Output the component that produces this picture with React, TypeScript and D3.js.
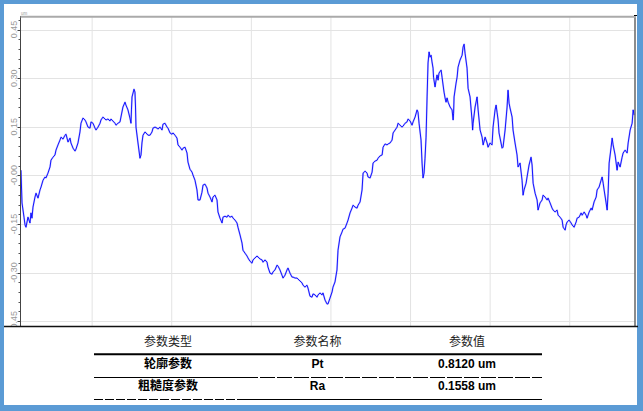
import { useEffect, useRef } from "react";
import * as d3 from "d3";

// profile trace: [position (mm), height (um)]
const profile: [number, number][] = [
    [0.106, 0.016], [0.119, -0.085], [0.144, -0.129], [0.157, -0.153], [0.169, -0.160], [0.194, -0.129],
    [0.219, -0.147], [0.232, -0.116], [0.244, -0.132], [0.257, -0.098], [0.282, -0.067], [0.295, -0.055],
    [0.320, -0.070], [0.345, -0.045], [0.358, -0.036], [0.383, -0.015], [0.408, -0.005], [0.420, -0.008],
    [0.445, 0.007], [0.471, 0.026], [0.483, 0.047], [0.508, 0.056], [0.533, 0.063], [0.546, 0.078],
    [0.571, 0.094], [0.596, 0.109], [0.609, 0.118], [0.634, 0.112], [0.659, 0.124], [0.672, 0.127],
    [0.697, 0.103], [0.722, 0.115], [0.734, 0.100], [0.760, 0.084], [0.785, 0.075], [0.797, 0.081],
    [0.822, 0.100], [0.847, 0.134], [0.860, 0.161], [0.885, 0.177], [0.910, 0.171], [0.923, 0.165],
    [0.948, 0.149], [0.973, 0.146], [0.986, 0.165], [1.011, 0.161], [1.036, 0.146], [1.049, 0.140],
    [1.074, 0.149], [1.099, 0.161], [1.111, 0.171], [1.136, 0.180], [1.162, 0.174], [1.174, 0.171],
    [1.199, 0.174], [1.224, 0.168], [1.237, 0.174], [1.287, 0.161], [1.300, 0.155], [1.325, 0.161],
    [1.350, 0.165], [1.362, 0.180], [1.387, 0.211], [1.413, 0.226], [1.425, 0.217], [1.450, 0.202],
    [1.475, 0.177], [1.488, 0.161], [1.494, 0.202], [1.501, 0.242], [1.526, 0.266], [1.538, 0.257],
    [1.545, 0.211], [1.551, 0.149], [1.576, 0.100], [1.601, 0.053], [1.614, 0.063], [1.626, 0.100],
    [1.639, 0.124], [1.664, 0.134], [1.677, 0.131], [1.702, 0.124],
    [1.727, 0.124], [1.752, 0.134], [1.765, 0.146], [1.790, 0.149], [1.815, 0.146], [1.827, 0.143],
    [1.853, 0.149], [1.878, 0.140], [1.890, 0.158], [1.915, 0.161], [1.941, 0.149], [1.953, 0.146],
    [1.978, 0.131], [2.003, 0.127], [2.016, 0.131], [2.041, 0.124], [2.066, 0.115], [2.079, 0.094],
    [2.104, 0.087], [2.129, 0.078], [2.142, 0.084], [2.167, 0.087], [2.192, 0.069], [2.204, 0.041],
    [2.229, 0.019], [2.255, 0.010], [2.267, 0.001], [2.292, -0.015], [2.317, -0.045], [2.330, -0.076],
    [2.355, -0.076], [2.380, -0.052], [2.393, -0.030], [2.418, -0.027], [2.443, -0.039], [2.456, -0.055],
    [2.481, -0.067], [2.506, -0.082], [2.518, -0.067], [2.543, -0.061], [2.569, -0.076], [2.581, -0.113],
    [2.606, -0.132], [2.632, -0.147], [2.644, -0.129], [2.669, -0.126], [2.694, -0.129], [2.707, -0.123],
    [2.732, -0.129], [2.757, -0.126], [2.770, -0.132], [2.795, -0.138], [2.820, -0.147], [2.832, -0.160],
    [2.858, -0.184], [2.883, -0.209], [2.895, -0.231],
    [2.920, -0.240], [2.946, -0.249], [2.958, -0.255], [2.983, -0.265], [3.008, -0.271], [3.021, -0.261],
    [3.046, -0.255], [3.071, -0.249], [3.084, -0.252], [3.109, -0.258], [3.134, -0.261], [3.147, -0.268],
    [3.172, -0.261], [3.197, -0.268], [3.209, -0.283], [3.235, -0.302], [3.260, -0.305], [3.272, -0.298],
    [3.297, -0.292], [3.323, -0.277], [3.335, -0.280], [3.360, -0.292], [3.385, -0.308], [3.398, -0.317],
    [3.423, -0.308], [3.448, -0.292], [3.461, -0.286], [3.486, -0.302], [3.511, -0.314], [3.524, -0.314],
    [3.549, -0.317], [3.574, -0.317], [3.586, -0.320], [3.611, -0.326], [3.637, -0.332], [3.649, -0.339],
    [3.674, -0.345], [3.699, -0.339], [3.712, -0.348], [3.737, -0.373], [3.762, -0.376], [3.775, -0.366],
    [3.800, -0.369], [3.825, -0.376], [3.838, -0.369], [3.863, -0.363], [3.888, -0.369], [3.900, -0.363],
    [3.926, -0.385], [3.951, -0.397], [3.963, -0.397], [3.988, -0.379], [4.014, -0.360], [4.026, -0.345],
    [4.051, -0.329], [4.076, -0.292], [4.089, -0.231], [4.114, -0.190], [4.139, -0.175], [4.152, -0.166],
    [4.177, -0.163], [4.202, -0.147], [4.215, -0.138], [4.240, -0.116], [4.265, -0.101], [4.278, -0.092],
    [4.303, -0.098], [4.328, -0.101], [4.341, -0.092], [4.366, -0.082], [4.391, -0.045], [4.404, 0.007],
    [4.429, 0.013], [4.454, 0.007], [4.466, -0.005], [4.492, -0.008], [4.517, 0.010], [4.529, 0.038],
    [4.554, 0.044], [4.580, 0.047], [4.592, 0.053], [4.617, 0.060], [4.643, 0.063], [4.655, 0.087],
    [4.680, 0.097], [4.705, 0.094], [4.718, 0.097], [4.743, 0.100], [4.768, 0.109], [4.781, 0.131],
    [4.806, 0.140], [4.831, 0.149], [4.843, 0.161], [4.868, 0.155], [4.893, 0.149], [4.906, 0.152],
    [4.931, 0.161], [4.956, 0.165], [4.969, 0.174], [4.994, 0.168], [5.019, 0.155], [5.032, 0.165],
    [5.057, 0.180], [5.082, 0.202], [5.094, 0.195], [5.107, 0.161], [5.132, 0.109], [5.145, 0.038],
    [5.157, -0.008], [5.170, 0.007], [5.182, 0.053], [5.195, 0.118], [5.208, 0.242], [5.220, 0.347],
    [5.233, 0.381], [5.245, 0.365], [5.258, 0.371], [5.270, 0.350], [5.283, 0.331], [5.289, 0.303],
    [5.308, 0.273], [5.321, 0.294], [5.333, 0.310], [5.346, 0.294], [5.358, 0.316], [5.384, 0.325],
    [5.396, 0.303], [5.409, 0.279], [5.421, 0.257], [5.434, 0.239], [5.446, 0.226], [5.459, 0.239],
    [5.472, 0.226], [5.497, 0.211], [5.522, 0.202], [5.535, 0.171], [5.541, 0.192], [5.547, 0.242],
    [5.572, 0.285], [5.585, 0.303], [5.597, 0.334], [5.622, 0.356], [5.648, 0.371], [5.660, 0.396],
    [5.673, 0.405],
    [5.685, 0.377], [5.710, 0.331], [5.723, 0.269], [5.748, 0.242], [5.773, 0.171], [5.780, 0.140],
    [5.786, 0.161], [5.811, 0.211], [5.836, 0.242], [5.849, 0.202], [5.874, 0.140], [5.899, 0.118],
    [5.912, 0.094], [5.937, 0.118], [5.962, 0.100], [5.974, 0.087], [5.999, 0.100], [6.024, 0.094],
    [6.037, 0.149], [6.062, 0.202], [6.075, 0.217], [6.087, 0.195], [6.100, 0.171], [6.112, 0.131],
    [6.137, 0.100], [6.150, 0.084], [6.162, 0.087], [6.188, 0.140], [6.213, 0.211], [6.225, 0.263],
    [6.238, 0.223], [6.250, 0.208], [6.276, 0.180], [6.288, 0.140], [6.313, 0.100], [6.338, 0.063],
    [6.351, 0.026], [6.376, 0.038], [6.401, -0.015], [6.414, -0.061], [6.426, -0.045], [6.452, -0.024],
    [6.464, -0.005], [6.489, 0.032], [6.514, 0.056], [6.527, 0.032], [6.540, -0.024], [6.565, -0.055],
    [6.590, -0.076], [6.602, -0.107], [6.627, -0.085], [6.653, -0.076], [6.665, -0.061], [6.690, -0.067],
    [6.716, -0.076], [6.728, -0.070], [6.753, -0.085], [6.778, -0.101], [6.791, -0.107], [6.816, -0.113],
    [6.841, -0.107], [6.854, -0.123], [6.879, -0.129], [6.904, -0.138], [6.917, -0.160], [6.942, -0.169],
    [6.954, -0.153], [6.967, -0.144], [6.992, -0.138], [7.017, -0.147], [7.030, -0.153], [7.055, -0.160],
    [7.080, -0.144], [7.093, -0.132], [7.118, -0.129], [7.143, -0.116], [7.156, -0.123], [7.181, -0.113],
    [7.206, -0.123], [7.218, -0.132], [7.244, -0.113], [7.269, -0.101], [7.281, -0.107], [7.306, -0.082],
    [7.332, -0.067], [7.344, -0.045], [7.369, -0.036], [7.394, -0.015], [7.407, -0.005], [7.420, -0.024],
    [7.432, -0.045], [7.457, -0.085], [7.470, -0.107], [7.482, -0.055], [7.495, 0.038], [7.520, 0.087],
    [7.533, 0.115], [7.545, 0.094], [7.570, 0.063], [7.595, 0.016], [7.608, 0.041], [7.633, 0.026],
    [7.658, 0.056], [7.671, 0.069], [7.696, 0.078], [7.721, 0.069], [7.734, 0.100], [7.759, 0.140],
    [7.784, 0.161], [7.797, 0.202], [7.809, 0.186],
];

const yTicks = [-0.45, -0.3, -0.15, 0, 0.15, 0.3, 0.45];
const yTickLabels = ["-0.45", "-0.30", "-0.15", "-0.00", "0.15", "0.30", "0.45"];
const xGrid = [1, 2, 3, 4, 5, 6, 7];

const tableHeaders = ["参数类型", "参数名称", "参数值"];
const paramTypes = ["轮廓参数", "粗糙度参数"];
const paramNames = ["Pt", "Ra"];
const paramValues = ["0.8120 um", "0.1558 um"];

const W = 643;
const H = 411;

const App = () => {
    const svgRef = useRef<SVGSVGElement>(null);

    useEffect(() => {
        if (!svgRef.current) return;
        const svg = d3.select(svgRef.current);
        svg.selectAll("*").remove();

        const plot = { left: 20.5, right: 635, top: 16, bottom: 326 };
        const x = d3.scaleLinear().domain([0.1, 7.82]).range([plot.left, plot.right]);
        const y = d3.scaleLinear().domain([-0.465, 0.492]).range([plot.bottom, plot.top]);

        // blue frame
        svg.append("rect").attr("width", W).attr("height", H).attr("fill", "#5b9bd5");
        svg.append("rect").attr("x", 4).attr("y", 4).attr("width", 633).attr("height", 401).attr("fill", "#fff");

        // grid
        const g = svg.append("g");
        g.selectAll(".vgrid")
            .data(xGrid)
            .enter()
            .append("line")
            .attr("x1", (d) => x(d))
            .attr("x2", (d) => x(d))
            .attr("y1", plot.top)
            .attr("y2", plot.bottom)
            .attr("stroke", "#e3e3e3")
            .attr("stroke-width", 1);
        g.selectAll(".hgrid")
            .data(yTicks)
            .enter()
            .append("line")
            .attr("x1", plot.left)
            .attr("x2", plot.right)
            .attr("y1", (d) => Math.round(y(d)) + 0.5)
            .attr("y2", (d) => Math.round(y(d)) + 0.5)
            .attr("stroke", "#e3e3e3")
            .attr("stroke-width", 1);

        // y labels (rotated)
        yTicks.forEach((t, i) => {
            g.append("text")
                .attr("transform", `translate(17,${y(t)}) rotate(-90)`)
                .attr("text-anchor", "middle")
                .attr("fill", "#999")
                .attr("font-family", "'Liberation Sans', Arial, sans-serif")
                .attr("font-size", "9px")
                .text(yTickLabels[i]);
        });

        // minor + major ticks
        const minor = d3.range(-15, 17).map((i) => i * 0.03);
        g.selectAll(".minor")
            .data(minor)
            .enter()
            .append("line")
            .attr("x1", plot.left - 2)
            .attr("x2", plot.left)
            .attr("y1", (d) => Math.round(y(d)) + 0.5)
            .attr("y2", (d) => Math.round(y(d)) + 0.5)
            .attr("stroke", "#555");
        g.selectAll(".major")
            .data(yTicks)
            .enter()
            .append("line")
            .attr("x1", plot.left - 3)
            .attr("x2", plot.left)
            .attr("y1", (d) => Math.round(y(d)) + 0.5)
            .attr("y2", (d) => Math.round(y(d)) + 0.5)
            .attr("stroke", "#444");

        // profile line
        svg.append("clipPath")
            .attr("id", "plotClip")
            .append("rect")
            .attr("x", plot.left)
            .attr("y", plot.top)
            .attr("width", plot.right - plot.left)
            .attr("height", plot.bottom - plot.top);
        const line = d3
            .line<[number, number]>()
            .x((d) => x(d[0]))
            .y((d) => y(d[1]));
        const lg = svg.append("g").attr("clip-path", "url(#plotClip)");
        lg.append("path")
            .datum(profile)
            .attr("d", line)
            .attr("fill", "none")
            .attr("stroke", "#7b7bff")
            .attr("stroke-width", 1.8)
            .attr("stroke-opacity", 0.45)
            .attr("stroke-linejoin", "round");
        lg.append("path")
            .datum(profile)
            .attr("d", line)
            .attr("fill", "none")
            .attr("stroke", "#0000ff")
            .attr("stroke-width", 0.9)
            .attr("stroke-linejoin", "round");

        // axis frame
        svg.append("line")
            .attr("x1", plot.left)
            .attr("x2", plot.left)
            .attr("y1", plot.top)
            .attr("y2", plot.bottom)
            .attr("stroke", "#444")
            .attr("stroke-width", 1);
        svg.append("line")
            .attr("x1", plot.right)
            .attr("x2", plot.right)
            .attr("y1", plot.top)
            .attr("y2", plot.bottom)
            .attr("stroke", "#666")
            .attr("stroke-width", 1.5);
        svg.append("line")
            .attr("x1", plot.left)
            .attr("x2", plot.right + 1)
            .attr("y1", plot.top + 0.8)
            .attr("y2", plot.top + 0.8)
            .attr("stroke", "#aaa")
            .attr("stroke-width", 2);
        svg.append("line")
            .attr("x1", plot.right - 1)
            .attr("x2", plot.right + 2)
            .attr("y1", plot.top - 0.5)
            .attr("y2", plot.top - 0.5)
            .attr("stroke", "#000");
        svg.append("text")
            .attr("x", 21)
            .attr("y", 14.5)
            .attr("fill", "#999")
            .attr("font-family", "'Liberation Sans', Arial, sans-serif")
            .attr("font-size", "4.5px")
            .text("um");

        // table area
        svg.append("rect")
            .attr("x", 4)
            .attr("y", plot.bottom)
            .attr("width", 633)
            .attr("height", 405 - plot.bottom)
            .attr("fill", "#fff");
        svg.append("line")
            .attr("x1", 4)
            .attr("x2", 638)
            .attr("y1", plot.bottom + 0.5)
            .attr("y2", plot.bottom + 0.5)
            .attr("stroke", "#111")
            .attr("stroke-width", 1.5);

        const col = d3.scalePoint<number>().domain([0, 1, 2]).range([168, 467]);
        const row = d3.scalePoint<number>().domain([0, 1, 2]).range([341.5, 385.6]);
        const font = "'Liberation Sans', Arial, 'Noto Sans CJK SC', sans-serif";
        const tl = { left: 94, right: 542 };

        tableHeaders.forEach((h, i) => {
            svg.append("text")
                .attr("x", col(i)!)
                .attr("y", row(0)!)
                .attr("text-anchor", "middle")
                .attr("dominant-baseline", "central")
                .attr("font-family", font)
                .attr("font-size", "12px")
                .attr("fill", "#222")
                .text(h);
        });
        const rows = paramTypes.map((t, i) => [t, paramNames[i], paramValues[i]]);
        rows.forEach((r, ri) => {
            r.forEach((cell, ci) => {
                svg.append("text")
                    .attr("x", col(ci)!)
                    .attr("y", row(ri + 1)!)
                    .attr("text-anchor", "middle")
                    .attr("dominant-baseline", "central")
                    .attr("font-family", font)
                    .attr("font-size", "12px")
                    .attr("font-weight", "bold")
                    .attr("fill", "#000")
                    .text(cell);
            });
        });

        // table rules
        svg.append("line")
            .attr("x1", tl.left)
            .attr("x2", tl.right)
            .attr("y1", 354.3)
            .attr("y2", 354.3)
            .attr("stroke", "#000")
            .attr("stroke-width", 2);
        // row 1 bottom: solid then dashed
        svg.append("line")
            .attr("x1", tl.left)
            .attr("x2", 243)
            .attr("y1", 377.5)
            .attr("y2", 377.5)
            .attr("stroke", "#000");
        svg.append("line")
            .attr("x1", 243)
            .attr("x2", tl.right)
            .attr("y1", 377.5)
            .attr("y2", 377.5)
            .attr("stroke", "#000")
            .attr("stroke-dasharray", "15 2");
        // row 2 bottom: dashed then solid
        svg.append("line")
            .attr("x1", tl.left)
            .attr("x2", 238)
            .attr("y1", 399.5)
            .attr("y2", 399.5)
            .attr("stroke", "#000")
            .attr("stroke-dasharray", "9 2");
        svg.append("line")
            .attr("x1", 238)
            .attr("x2", tl.right)
            .attr("y1", 399.5)
            .attr("y2", 399.5)
            .attr("stroke", "#000");
    }, []);

    return (
        <div style={{ position: "absolute", left: 0, top: 0 }}>
            <svg ref={svgRef} width={W} height={H} style={{ display: "block" }} />
        </div>
    );
};

export default App;
